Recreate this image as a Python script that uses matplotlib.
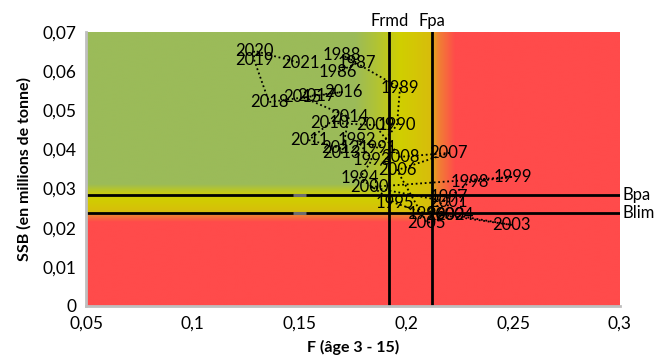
import matplotlib
matplotlib.use('Agg')
import matplotlib.pyplot as plt
import numpy as np
from matplotlib.colors import LinearSegmentedColormap
from matplotlib.ticker import FuncFormatter

plt.rcParams['font.family'] = ['Lato', 'DejaVu Sans']

# Data: year, F (age 3-15), SSB (millions de tonne)
years = [1986, 1987, 1988, 1989, 1990, 1991, 1992, 1993, 1994, 1995,
         1996, 1997, 1998, 1999, 2000, 2001, 2002, 2003, 2004, 2005,
         2006, 2007, 2008, 2009, 2010, 2011, 2012, 2013, 2014, 2015,
         2016, 2017, 2018, 2019, 2020, 2021]
f_vals = [0.168, 0.177, 0.170, 0.197, 0.1956, 0.1867, 0.1769, 0.1839, 0.1782, 0.1947,
          0.2096, 0.2199, 0.2298, 0.2499, 0.1829, 0.2199, 0.2181, 0.2494, 0.2227, 0.2096,
          0.1956, 0.2199, 0.197, 0.1853, 0.1642, 0.1544, 0.1689, 0.1698, 0.1731, 0.1511,
          0.1703, 0.1577, 0.1357, 0.1287, 0.1287, 0.1502]
ssb_vals = [0.0598, 0.0621, 0.0641, 0.0557, 0.0462, 0.0404, 0.0424, 0.0373, 0.0327, 0.0263,
            0.0235, 0.0278, 0.0317, 0.0330, 0.0304, 0.0266, 0.0232, 0.0207, 0.0232, 0.0212,
            0.0347, 0.0391, 0.0381, 0.0462, 0.0468, 0.0424, 0.0404, 0.0391, 0.0483, 0.0534,
            0.0547, 0.0537, 0.0521, 0.0629, 0.0652, 0.0621]

# Reference points
f_rmd = 0.192
f_pa = 0.212
b_pa = 0.0284
b_lim = 0.0238

# grey marks sitting on the B lines
mark_f = [0.147, 0.153]

x_min, x_max = 0.05, 0.3
y_min, y_max = 0.0, 0.07

GREEN = '#9BBB59'
YELLOW = '#D0CF00'
ORANGE = '#F08232'
RED = '#FF4B4B'

cmap = LinearSegmentedColormap.from_list(
    'risk', [(0.0, GREEN), (0.5, YELLOW), (0.72, ORANGE), (1.0, RED)])

fig = plt.figure(figsize=(6.54, 3.62), dpi=100)
ax = fig.add_axes([0.1315, 0.1547, 0.8165, 0.7569])

# background risk field
gx = np.linspace(x_min, x_max, 800)
gy = np.linspace(y_min, y_max, 800)
hx = np.interp(gx, [0.176, 0.188, 0.197, 0.211, 0.215, 0.223], [0, 0.25, 0.5, 0.55, 0.72, 1.0])
hy = np.interp(gy, [0.0215, 0.0232, 0.0240, 0.0276, 0.0292, 0.0312],
               [1.0, 0.72, 0.55, 0.5, 0.35, 0.0])
field = np.maximum(hx[None, :], hy[:, None])
ax.imshow(field, extent=[x_min, x_max, y_min, y_max], origin='lower',
          cmap=cmap, vmin=0, vmax=1, aspect='auto', interpolation='bilinear', zorder=0)

# reference lines
ax.axvline(f_rmd, color='black', lw=2, zorder=2)
ax.axvline(f_pa, color='black', lw=2, zorder=2)
ax.axhline(b_pa, color='black', lw=2, zorder=2)
ax.axhline(b_lim, color='black', lw=2, zorder=2)
ax.plot(mark_f, [b_pa, b_pa], color='#6E6E6E', lw=2.2, zorder=3, solid_capstyle='butt')
ax.plot(mark_f, [b_lim, b_lim], color='#6E6E6E', lw=2.2, zorder=3, solid_capstyle='butt')

ax.text(f_rmd, y_max + 0.0008, 'Frmd', ha='center', va='bottom', fontsize=12)
ax.text(f_pa, y_max + 0.0008, 'Fpa', ha='center', va='bottom', fontsize=12)
ax.text(x_max + 0.001, b_pa, 'Bpa', ha='left', va='center', fontsize=12)
ax.text(x_max + 0.001, b_lim, 'Blim', ha='left', va='center', fontsize=12)

# trajectory
ax.plot(f_vals, ssb_vals, color='black', lw=1.3, linestyle=(0, (1, 1.5)), zorder=4)
for yr, f, s in zip(years, f_vals, ssb_vals):
    ax.text(f, s, str(yr), ha='center', va='center', fontsize=12, zorder=5)

ax.set_xlim(x_min, x_max)
ax.set_ylim(y_min, y_max)
ax.set_xticks(np.arange(0.05, 0.301, 0.05))
ax.set_yticks(np.arange(0, 0.0701, 0.01))


def comma(v, pos):
    s = f'{v:.2f}'.rstrip('0').rstrip('.')
    return s.replace('.', ',')


ax.xaxis.set_major_formatter(FuncFormatter(comma))
ax.yaxis.set_major_formatter(FuncFormatter(comma))
ax.tick_params(length=0, labelsize=12.5, pad=7)

for side in ['top', 'right']:
    ax.spines[side].set_visible(False)
for side in ['left', 'bottom']:
    ax.spines[side].set_color('#BFBFBF')
    ax.spines[side].set_linewidth(2)

ax.set_xlabel('F (âge 3 - 15)', fontsize=11.5, fontweight='bold', labelpad=6)
ax.set_ylabel('SSB (en millions de tonne)', fontsize=11.5, fontweight='bold', labelpad=8)

plt.savefig('out.png', dpi=100)
plt.close()
